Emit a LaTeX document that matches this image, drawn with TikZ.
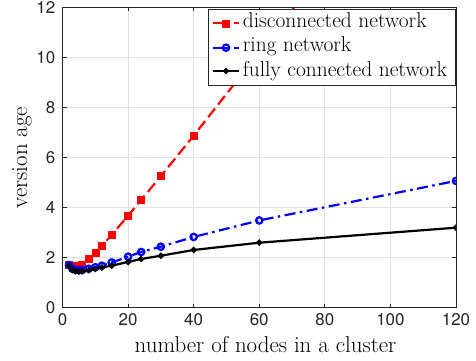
\documentclass[tikz,border=0pt]{standalone}
\usepackage{fontspec}
\newfontfamily\tickfont{TeX Gyre Heros}
\usetikzlibrary{plotmarks}

\definecolor{axisgray}{gray}{0.15}
\definecolor{gridgray}{gray}{0.88}

\tikzset{
  axisline/.style={draw=axisgray, line width=0.8bp},
  gridline/.style={draw=gridgray, line width=0.7bp},
  ticklabel/.style={font=\tickfont\fontsize{17}{19}\selectfont, text=axisgray, inner sep=0pt},
  axislabel/.style={font=\fontsize{23}{26}\selectfont, inner sep=0pt},
  legendtext/.style={font=\fontsize{21.5}{24}\selectfont, anchor=base west, inner sep=0pt},
  disc/.style={red, line width=2.2bp, dash pattern=on 11bp off 5bp,
    mark=square*, mark size=3.5bp, mark options={solid, fill=red, line width=0.5bp}},
  ringnet/.style={blue, line width=2.2bp, dash pattern=on 11bp off 4.5bp on 2.5bp off 4.5bp,
    mark=o, mark size=3.2bp, mark options={solid, fill=white, line width=2.2bp}},
  fullnet/.style={black, line width=2.2bp, mark=*, mark size=1.9bp, mark options={solid}},
}

\begin{document}
\begin{tikzpicture}[x=1bp, y=1bp]
\useasboundingbox (0,0) rectangle (476,360);

\begin{scope}[shift={(62.5,52.5)}, x=3.279bp, y=25.02bp]
  % grid
  \foreach \gx in {20,40,...,100} \draw[gridline] (\gx,0) -- (\gx,12);
  \foreach \gy in {2,4,...,10} \draw[gridline] (0,\gy) -- (120,\gy);

  % data
  \begin{scope}
    \clip (0,0) rectangle (120,12);
    \draw[disc] plot coordinates {(2,1.72) (3,1.66) (4,1.64) (5,1.66) (6,1.71) (8,1.94) (10,2.19) (12,2.46) (15,2.90) (20,3.67) (24,4.30) (30,5.25) (40,6.87) (60,10.2) (120,20.3)};
    \draw[ringnet] plot coordinates {(2,1.70) (3,1.55) (4,1.50) (5,1.49) (6,1.50) (8,1.55) (10,1.61) (12,1.67) (15,1.80) (20,2.03) (24,2.22) (30,2.43) (40,2.82) (60,3.48) (120,5.06)};
    \draw[fullnet] plot coordinates {(2,1.67) (3,1.50) (4,1.45) (5,1.44) (6,1.45) (8,1.49) (10,1.54) (12,1.60) (15,1.67) (20,1.82) (24,1.94) (30,2.07) (40,2.30) (60,2.59) (120,3.19)};
  \end{scope}

  % axes box and ticks
  \draw[axisline] (0,0) rectangle (120,12);
  \foreach \tx in {0,20,...,120} {
    \draw[axisline] (\tx,0) -- ++(0,4bp);
    \draw[axisline] (\tx,12) -- ++(0,-4bp);
    \node[ticklabel, anchor=north] (xt\tx) at ([yshift=-6bp]\tx,0) {\tx};
  }
  \foreach \ty in {0,2,...,12} {
    \draw[axisline] (0,\ty) -- ++(4bp,0);
    \draw[axisline] (120,\ty) -- ++(-4bp,0);
    \node[ticklabel, anchor=east] (yt\ty) at ([xshift=-7bp]0,\ty) {\ty};
  }
\end{scope}

% axis labels
\node[axislabel] (xlabel) at (265.5,15) {number of nodes in a cluster};
\node[axislabel, rotate=90] (ylabel) at (22,202.5) {version age};

% legend
\node[draw=axisgray, fill=white, line width=0.8bp, minimum width=247bp, minimum height=76bp, anchor=north west, inner sep=0pt] (legend) at (208.3,350.7) {};
\coordinate (s1a) at (212.7,336.7); \coordinate (s1b) at (239.3,336.7);
\coordinate (s2a) at (212.7,312.3); \coordinate (s2b) at (239.3,312.3);
\coordinate (s3a) at (212.7,289);   \coordinate (s3b) at (239.3,289);
\draw[disc, mark=none, dash pattern=on 16.5bp off 4.5bp] (s1a) -- (s1b);
\draw[disc] plot coordinates {(226,336.7)};
\node[legendtext] (l1) at (242.7,332.7) {disconnected network};
\draw[ringnet, mark=none, dash pattern=on 16.5bp off 4.5bp] (s2a) -- (s2b);
\draw[ringnet] plot coordinates {(226,312.3)};
\node[legendtext] (l2) at (242.7,308.3) {ring network};
\draw[fullnet, mark=none] (s3a) -- (s3b);
\draw[fullnet] plot coordinates {(226,289)};
\node[legendtext] (l3) at (242.7,284) {fully connected network};
\end{tikzpicture}
\end{document}
